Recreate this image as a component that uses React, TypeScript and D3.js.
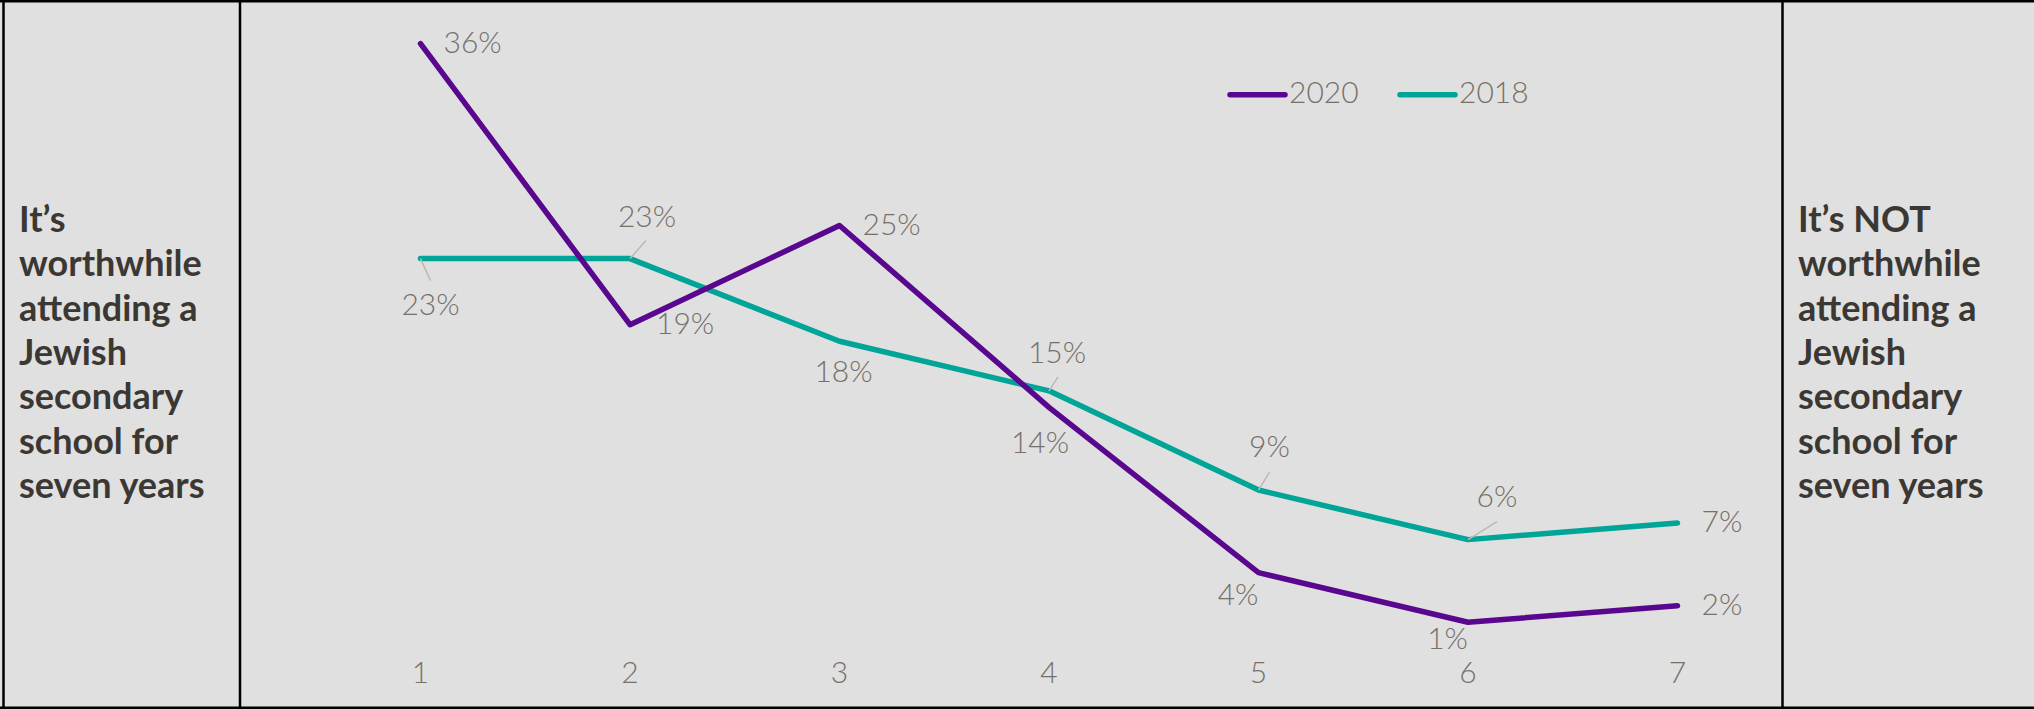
import React from "react";
import * as d3 from "d3";

// Scale points 1 (worthwhile) .. 7 (not worthwhile)
const scalePoints = [1, 2, 3, 4, 5, 6, 7];
const tickLabels = ["1", "2", "3", "4", "5", "6", "7"];

// Share of respondents (%) per scale point
const values2020 = [36, 19, 25, 14, 4, 1, 2];
const values2018 = [23, 23, 18, 15, 9, 6, 7];

const seriesNames = ["2020", "2018"];

const leftCaption = [
  "It\u2019s",
  "worthwhile",
  "attending a",
  "Jewish",
  "secondary",
  "school for",
  "seven years",
];
const rightCaption = [
  "It\u2019s NOT",
  "worthwhile",
  "attending a",
  "Jewish",
  "secondary",
  "school for",
  "seven years",
];

// Data label placement (offsets from the point, plus optional leader line end)
type Place = { dx: number; dy: number; anchor: string; leader?: [number, number] };
const place2020: Place[] = [
  { dx: 23, dy: 9, anchor: "start" },
  { dx: 26, dy: 9, anchor: "start" },
  { dx: 23, dy: 9, anchor: "start" },
  { dx: -9, dy: 46, anchor: "middle" },
  { dx: 0, dy: 32, anchor: "end" },
  { dx: 0, dy: 27, anchor: "end" },
  { dx: 24, dy: 9, anchor: "start" },
];
const place2018: Place[] = [
  { dx: 10, dy: 56, anchor: "middle", leader: [10, 22] },
  { dx: 17, dy: -32, anchor: "middle", leader: [16, -18] },
  { dx: 4, dy: 41, anchor: "middle" },
  { dx: 8, dy: -28, anchor: "middle", leader: [9, -14] },
  { dx: 11, dy: -33, anchor: "middle", leader: [11, -18] },
  { dx: 29, dy: -33, anchor: "middle", leader: [29, -18] },
  { dx: 24, dy: 9, anchor: "start" },
];

const W = 2034;
const H = 709;
const BG = "#e0e0e0";
const PURPLE = "#5a078f";
const TEAL = "#00a598";
const LABEL = "#777069";
const CAPTION = "#3b3834";
const LABEL_FONT = "Lato, 'Open Sans', sans-serif";

export default function App() {
  const x = d3.scaleLinear().domain([1, 7]).range([420.5, 1677.5]);
  const y = d3.scaleLinear().domain([0, 36]).range([638.8, 43.7]);

  const line = d3
    .line<number>()
    .x((_, i) => x(scalePoints[i]))
    .y((d) => y(d));

  const series = [
    { name: seriesNames[0], values: values2020, color: PURPLE, place: place2020 },
    { name: seriesNames[1], values: values2018, color: TEAL, place: place2018 },
  ];

  const fmt = (v: number) => `${v}%`;

  const captionLines = (lines: string[], x0: number) =>
    lines.map((t, i) => (
      <text
        key={i}
        x={x0}
        y={232 + i * 44.3}
        fontFamily="Lato, 'Open Sans', sans-serif"
        fontWeight={700}
        fontSize={36}
        fill={CAPTION}
      >
        {t}
      </text>
    ));

  return (
    <div style={{ position: "absolute", left: 0, top: 0 }}>
      <svg width={W} height={H} style={{ display: "block" }}>
        <rect x={0} y={0} width={W} height={H} fill={BG} />

        {/* frame and panel dividers */}
        <line x1={0} x2={W} y1={1.2} y2={1.2} stroke="#000" strokeWidth={2.5} />
        <line x1={0} x2={W} y1={707.8} y2={707.8} stroke="#000" strokeWidth={2.5} />
        <line x1={3.5} x2={3.5} y1={0} y2={H} stroke="#000" strokeWidth={2.5} />
        <line x1={240} x2={240} y1={0} y2={H} stroke="#000" strokeWidth={2.5} />
        <line x1={1782.5} x2={1782.5} y1={0} y2={H} stroke="#000" strokeWidth={2.5} />

        {captionLines(leftCaption, 19)}
        {captionLines(rightCaption, 1798)}

        {/* x axis labels */}
        {scalePoints.map((p, i) => (
          <text
            key={p}
            x={x(p)}
            y={682.5}
            textAnchor="middle"
            fontFamily={LABEL_FONT}
            fontWeight={300}
            fontSize={30}
            fill={LABEL}
          >
            {tickLabels[i]}
          </text>
        ))}

        {/* legend */}
        {series.map((s, i) => {
          const lx = 1230 + i * 170;
          return (
            <g key={s.name}>
              <line
                x1={lx}
                x2={lx + 55}
                y1={94.7}
                y2={94.7}
                stroke={s.color}
                strokeWidth={5.5}
                strokeLinecap="round"
              />
              <text
                x={lx + 59}
                y={102.7}
                fontFamily={LABEL_FONT}
                fontWeight={300}
                fontSize={30}
                fill={LABEL}
              >
                {s.name}
              </text>
            </g>
          );
        })}

        {/* series lines, 2018 drawn first so 2020 sits on top where they cross */}
        {[series[1], series[0]].map((s) => (
          <path
            key={s.name}
            d={line(s.values) || ""}
            fill="none"
            stroke={s.color}
            strokeWidth={5.5}
            strokeLinecap="round"
            strokeLinejoin="round"
          />
        ))}

        {/* data labels with leader lines */}
        {series.map((s) =>
          s.values.map((v, i) => {
            const px = x(scalePoints[i]);
            const py = y(v);
            const p = s.place[i];
            return (
              <g key={`${s.name}-${i}`}>
                {p.leader && (
                  <line
                    x1={px}
                    y1={py}
                    x2={px + p.leader[0]}
                    y2={py + p.leader[1]}
                    stroke="#bfb9b4"
                    strokeWidth={1.5}
                  />
                )}
                <text
                  x={px + p.dx}
                  y={py + p.dy}
                  textAnchor={p.anchor}
                  fontFamily={LABEL_FONT}
                  fontWeight={300}
                  fontSize={30}
                  fill={LABEL}
                >
                  {fmt(v)}
                </text>
              </g>
            );
          })
        )}
      </svg>
    </div>
  );
}
